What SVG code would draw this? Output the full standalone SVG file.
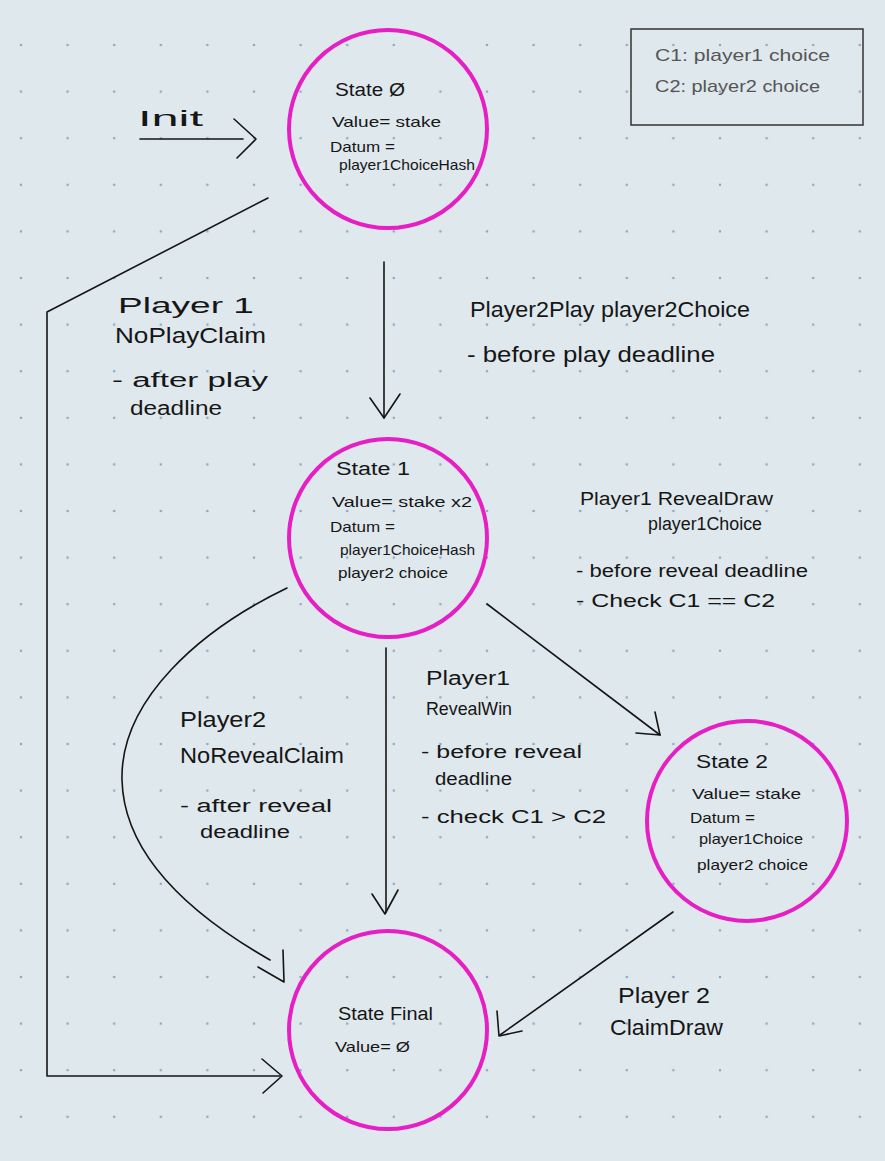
<svg xmlns="http://www.w3.org/2000/svg" width="885" height="1161" viewBox="0 0 885 1161">
<defs>
<pattern id="dots" x="21" y="-1.6" width="46.6" height="46.6" patternUnits="userSpaceOnUse">
<circle cx="0" cy="0" r="1.3" fill="#93a7c0"/>
<circle cx="46.6" cy="0" r="1.3" fill="#93a7c0"/>
<circle cx="0" cy="46.6" r="1.3" fill="#93a7c0"/>
<circle cx="46.6" cy="46.6" r="1.3" fill="#93a7c0"/>
</pattern>
<style>
.st{fill:none;stroke:#e51fc4;stroke-width:4}
.ln{fill:none;stroke:#151515;stroke-width:1.6;stroke-linecap:round;stroke-linejoin:round}
text{font-family:"Liberation Sans",Arial,sans-serif;fill:#161616}
.n{font-size:15px}
.t{font-size:18px}
.l{font-size:22px}
.m{font-size:18px}
.s{font-size:20px}
.g{font-size:17px;fill:#555}
</style>
</defs>
<rect width="885" height="1161" fill="#dfe8ed"/>
<rect width="885" height="1161" fill="url(#dots)"/>

<g id="legend">
<rect x="631" y="29" width="232" height="96" fill="none" stroke="#333" stroke-width="1.5"/>
<text class="g" x="655" y="61" textLength="175" lengthAdjust="spacingAndGlyphs">C1: player1 choice</text>
<text class="g" x="655" y="92" textLength="165" lengthAdjust="spacingAndGlyphs">C2: player2 choice</text>
</g>

<g id="connectors">
<path class="ln" d="M140,139 L243,139"/>
<polyline class="ln" points="234,119 256,139 237,158"/>
<text class="l" x="138" y="126" textLength="65" lengthAdjust="spacingAndGlyphs">Init</text>
<path class="ln" d="M384,262 L384,418"/>
<polyline class="ln" points="370,398 384,418 400,394"/>
<path class="ln" d="M268,198 L47,312 L47,1076 L280,1076"/>
<polyline class="ln" points="262,1059 282,1076 263,1093"/>
<path class="ln" d="M287,588 C200,630 120,700 122,780 C124,860 200,920 270,960"/>
<polyline class="ln" points="258,967 284,982 283,950"/>
<path class="ln" d="M386,648 L386,912"/>
<polyline class="ln" points="372,894 385,914 398,890"/>
<path class="ln" d="M487,604 L660,735"/>
<polyline class="ln" points="655,712 660,735 636,733"/>
<path class="ln" d="M673,912 L500,1035"/>
<polyline class="ln" points="497,1011 499,1036 522,1031"/>
</g>

<g id="label-noplay">
<text class="l" x="118" y="313" textLength="136" lengthAdjust="spacingAndGlyphs">Player 1</text>
<text class="l" x="115" y="343" textLength="151" lengthAdjust="spacingAndGlyphs">NoPlayClaim</text>
<text class="s" x="112" y="387" textLength="156" lengthAdjust="spacingAndGlyphs">- after play</text>
<text class="s" x="130" y="415" textLength="92" lengthAdjust="spacingAndGlyphs">deadline</text>
</g>
<g id="label-play">
<text class="l" x="470" y="317" textLength="280" lengthAdjust="spacingAndGlyphs">Player2Play   player2Choice</text>
<text class="l" x="467" y="362" textLength="248" lengthAdjust="spacingAndGlyphs">- before play deadline</text>
</g>
<g id="label-revealdraw">
<text class="m" x="580" y="505" textLength="193" lengthAdjust="spacingAndGlyphs">Player1 RevealDraw</text>
<text class="m" x="648" y="530" textLength="114" lengthAdjust="spacingAndGlyphs">player1Choice</text>
<text class="m" x="576" y="577" textLength="232" lengthAdjust="spacingAndGlyphs">- before reveal deadline</text>
<text class="m" x="576" y="607" textLength="199" lengthAdjust="spacingAndGlyphs">- Check   C1 == C2</text>
</g>
<g id="label-noreveal">
<text class="l" x="180" y="727" textLength="86" lengthAdjust="spacingAndGlyphs">Player2</text>
<text class="l" x="180" y="763" textLength="164" lengthAdjust="spacingAndGlyphs">NoRevealClaim</text>
<text class="m" x="180" y="812" textLength="152" lengthAdjust="spacingAndGlyphs">- after reveal</text>
<text class="m" x="200" y="838" textLength="90" lengthAdjust="spacingAndGlyphs">deadline</text>
</g>
<g id="label-revealwin">
<text class="s" x="426" y="685" textLength="84" lengthAdjust="spacingAndGlyphs">Player1</text>
<text x="426" y="715" font-size="19" textLength="86" lengthAdjust="spacingAndGlyphs">RevealWin</text>
<text class="m" x="421" y="758" textLength="161" lengthAdjust="spacingAndGlyphs">- before reveal</text>
<text class="m" x="435" y="785" textLength="77" lengthAdjust="spacingAndGlyphs">deadline</text>
<text class="m" x="421" y="823" textLength="185" lengthAdjust="spacingAndGlyphs">- check   C1 &gt; C2</text>
</g>
<g id="label-claimdraw">
<text class="l" x="618" y="1003" textLength="92" lengthAdjust="spacingAndGlyphs">Player 2</text>
<text class="l" x="610" y="1035" textLength="113" lengthAdjust="spacingAndGlyphs">ClaimDraw</text>
</g>

<g id="state0">
<circle class="st" cx="388" cy="129" r="99"/>
<text class="t" x="335" y="96" textLength="70" lengthAdjust="spacingAndGlyphs">State Ø</text>
<text class="n" x="332" y="127" textLength="109" lengthAdjust="spacingAndGlyphs">Value= stake</text>
<text class="n" x="330" y="152" textLength="65" lengthAdjust="spacingAndGlyphs">Datum =</text>
<text class="n" x="339" y="170" textLength="136" lengthAdjust="spacingAndGlyphs">player1ChoiceHash</text>
</g>
<g id="state1">
<circle class="st" cx="388" cy="538" r="99"/>
<text class="t" x="336" y="475" textLength="74" lengthAdjust="spacingAndGlyphs">State 1</text>
<text class="n" x="332" y="507" textLength="140" lengthAdjust="spacingAndGlyphs">Value= stake x2</text>
<text class="n" x="330" y="532" textLength="65" lengthAdjust="spacingAndGlyphs">Datum =</text>
<text class="n" x="340" y="555" textLength="135" lengthAdjust="spacingAndGlyphs">player1ChoiceHash</text>
<text class="n" x="338" y="578" textLength="110" lengthAdjust="spacingAndGlyphs">player2 choice</text>
</g>
<g id="state2">
<circle class="st" cx="747" cy="821" r="100"/>
<text class="t" x="696" y="768" textLength="72" lengthAdjust="spacingAndGlyphs">State 2</text>
<text class="n" x="692" y="799" textLength="109" lengthAdjust="spacingAndGlyphs">Value= stake</text>
<text class="n" x="690" y="823" textLength="65" lengthAdjust="spacingAndGlyphs">Datum =</text>
<text class="n" x="699" y="844" textLength="104" lengthAdjust="spacingAndGlyphs">player1Choice</text>
<text class="n" x="697" y="870" textLength="111" lengthAdjust="spacingAndGlyphs">player2 choice</text>
</g>
<g id="stateFinal">
<circle class="st" cx="388" cy="1030" r="99"/>
<text class="t" x="338" y="1020" textLength="95" lengthAdjust="spacingAndGlyphs">State Final</text>
<text class="n" x="335" y="1052" textLength="75" lengthAdjust="spacingAndGlyphs">Value= Ø</text>
</g>
</svg>
